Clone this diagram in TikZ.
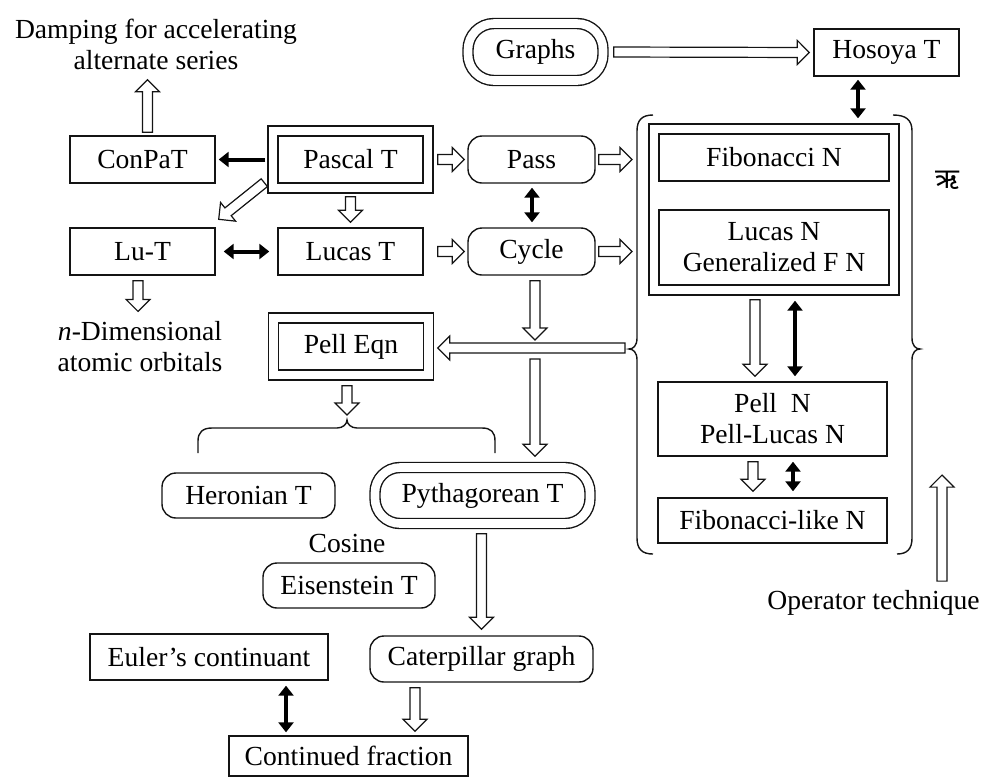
\documentclass[tikz,border=0pt]{standalone}
\usepackage{fontspec}
\setmainfont{Liberation Serif}
\newfontfamily\devafont[Script=Devanagari]{Noto Sans}
\usetikzlibrary{arrows.meta,calc}
\definecolor{inkline}{RGB}{20,20,20}
\tikzset{
  box/.style  ={draw=inkline, line width=0.7pt, inner sep=1pt, align=center},
  rbox/.style ={box, rounded corners=7pt},
  dbox/.style ={box, double, double distance=4.3pt},
  txt/.style  ={inner sep=0pt, align=center},
  harr/.style ={draw=inkline, line width=0.6pt, fill=white, line join=miter},
  barr/.style ={draw=black, line width=2pt, -{Triangle[length=5pt,width=7.5pt]}},
  bbarr/.style={barr, {Triangle[length=5pt,width=7.5pt]}-{Triangle[length=5pt,width=7.5pt]}},
  brc/.style  ={draw=inkline, line width=0.7pt},
}
% hollow block arrow from #2 to #3
\newcommand\hollow[3][]{%
  \coordinate (ha) at (#2);
  \coordinate (hb) at (#3);
  \coordinate (hc) at ($(hb)!6pt!(ha)$);
  \draw[harr,#1] ($(ha)!2.5pt!90:(hb)$) -- ($(hc)!2.5pt!90:(hb)$) -- ($(hc)!6pt!90:(hb)$)
    -- (hb) -- ($(hc)!6pt!-90:(hb)$) -- ($(hc)!2.5pt!-90:(hb)$) -- ($(ha)!2.5pt!-90:(hb)$) -- cycle;
}

\begin{document}
\begin{tikzpicture}[x=0.5pt,y=-0.5pt,font=\fontsize{13.8pt}{15.5pt}\selectfont]
  \useasboundingbox (0,0) rectangle (984,778);
  % left and middle column
  \node[txt] (damp) at (156,44) {Damping for accelerating\\alternate series};
  \node[box,minimum width=72.5pt,minimum height=23.5pt] (conpat) at (142.5,159.5) {ConPaT};
  \node[dbox,minimum width=77.5pt,minimum height=28.5pt] (pascal) at (350.5,159.5) {Pascal T};
  \node[box,minimum width=72.5pt,minimum height=23.5pt] (lut) at (142.5,251.5) {Lu-T};
  \node[box,minimum width=72.5pt,minimum height=23.5pt] (lucast) at (350.5,251.5) {Lucas T};
  \node[rbox,minimum width=63.5pt,minimum height=23.5pt] (pass) at (531.5,159.5) {Pass};
  \node[rbox,minimum width=63.5pt,minimum height=23.5pt] (cycle) at (531.5,251.5) {Cycle};
  \node[txt] (dim) at (140,347) {\textit{n}-Dimensional\\atomic orbitals};
  \node[dbox,minimum width=77.5pt,minimum height=28.5pt] (pelleq) at (351,346.5) {Pell Eqn};
  \node[rbox,minimum width=86.5pt,minimum height=22.5pt] (heron) at (248.5,495.5) {Heronian T};
  \node[dbox,rounded corners=12.5pt,minimum width=107.5pt,minimum height=28pt] (pyth) at (482.5,495.5) {Pythagorean T};
  \node[txt] (cosine) at (347,543) {Cosine};
  \node[rbox,minimum width=86pt,minimum height=22.5pt] (eisen) at (349,585.5) {Eisenstein T};
  \node[rbox,minimum width=111.5pt,minimum height=23pt] (cater) at (481.5,659) {Caterpillar graph};
  \node[box,minimum width=119pt,minimum height=23pt] (euler) at (209,657) {Euler’s continuant};
  \node[box,minimum width=119.5pt,minimum height=20pt] (contf) at (348.5,756) {Continued fraction};
  % right column
  \node[dbox,rounded corners=13pt,minimum width=67.5pt,minimum height=28.5pt] (graphs) at (535.5,52) {Graphs};
  \node[box,minimum width=72.5pt,minimum height=23.5pt] (hosoya) at (886.5,52.5) {Hosoya T};
  \node[box,minimum width=125pt,minimum height=85.5pt] (fibgrp) at (774,209.5) {};
  \node[box,minimum width=115pt,minimum height=23.5pt] (fib) at (774,157.5) {Fibonacci N};
  \node[box,minimum width=115pt,minimum height=37.5pt] (lucn) at (774,247.5) {Lucas N\\Generalized F N};
  \node[box,minimum width=114.5pt,minimum height=37pt] (pell) at (772.5,419) {Pell~~N\\Pell-Lucas N};
  \node[box,minimum width=114.5pt,minimum height=22.5pt] (fiblike) at (772.5,520.5) {Fibonacci-like N};
  \node[txt] (oper) at (873.5,603) {Operator technique};
  \node[txt] (ri) at (947,180) {\devafont\fontsize{14pt}{14pt}\selectfont ऋ};
  % braces
  \coordinate (lcusp) at (629,349);
  \coordinate (hcusp) at (347,420);
  \draw[brc] (653,115) .. controls (642,115) and (637,120) .. (637,131) -- (637,338)
    .. controls (637,346) and (633,349) .. (lcusp) .. controls (633,349) and (637,352) .. (637,360)
    -- (637,538) .. controls (637,549) and (642,554) .. (653,554);
  \draw[brc] (893,115) .. controls (906,115) and (912,120) .. (912,131) -- (912,338)
    .. controls (912,346) and (916,349) .. (920,349) .. controls (916,349) and (912,352) .. (912,360)
    -- (912,538) .. controls (912,549) and (907,554) .. (897,554);
  \draw[brc] (198,453) -- (198,441) .. controls (198,432) and (203,428) .. (212,428) -- (337,428)
    .. controls (343,428) and (347,424) .. (hcusp) .. controls (347,424) and (351,428) .. (357,428)
    -- (482,428) .. controls (491,428) and (495,432) .. (495,441) -- (495,453);
  % hollow arrows
  \hollow{$(conpat.north)+(5,-3)$}{$(conpat.north |- damp.south)+(5,10)$}
  \hollow{$(pascal.south west)+(-8,-6)$}{$(lut.north east)+(3,-8)$}
  \hollow{$(pascal.south)+(0,8)$}{$(lucast.north)+(0,-5)$}
  \hollow{$(pascal.east)+(9,0)$}{$(pass.west)+(-3,0)$}
  \hollow{$(lucast.east)+(14,0)$}{$(cycle.west)+(-3,0)$}
  \hollow{$(pass.east)+(3,0)$}{$(pass.east -| lcusp)+(3,0)$}
  \hollow{$(cycle.east)+(3,0)$}{$(cycle.east -| lcusp)+(3,0)$}
  \hollow{$(graphs.east)+(10,0)$}{$(hosoya.west)+(-4,0)$}
  \hollow{$(lut.south)+(-4.5,5)$}{$(lut.south |- dim.north)+(-4.5,-10)$}
  \hollow{$(cycle.south)+(3.5,5)$}{$(cycle.south |- lcusp)+(3.5,-9)$}
  \hollow{$(lcusp)+(-4,-1)$}{$(pelleq.east |- lcusp)+(8.5,-1)$}
  \hollow{$(cycle.south |- lcusp)+(3.5,10)$}{$(cycle.south |- pyth.north)+(3.5,-10.5)$}
  \hollow{$(pelleq.south)+(-4,10)$}{$(hcusp)+(0,-5)$}
  \hollow{$(fibgrp.south)+(-19,4)$}{$(pell.north)+(-17.5,-5)$}
  \hollow{$(pell.south)+(-19.5,5)$}{$(fiblike.north)+(-19.5,-6)$}
  \hollow{$(oper.north)+(68.5,-9)$}{$(oper.north)+(68.5,-115)$}
  \hollow{$(pyth.south -| cater.north)+(0,9.5)$}{$(cater.north)+(0,-6)$}
  \hollow{$(cater.south)+(-66.5,5)$}{$(contf.north)+(66.5,-4)$}
  % solid arrows
  \draw[barr] ($(pascal.west)+(-7,0)$) -- ($(conpat.east)+(3,0)$);
  \draw[bbarr] ($(lut.east)+(8,0)$) -- ($(lucast.west)+(-8,0)$);
  \draw[bbarr] ($(pass.south)+(0.5,4)$) -- ($(cycle.north)+(0.5,-5)$);
  \draw[bbarr] ($(hosoya.south)+(-28.5,3)$) -- ($(hosoya.south |- fibgrp.north)+(-28.5,-5)$);
  \draw[bbarr] ($(fibgrp.south)+(21,5)$) -- ($(pell.north)+(22.5,-5)$);
  \draw[bbarr] ($(pell.south)+(20.5,5)$) -- ($(fiblike.north)+(20.5,-6)$);
  \draw[bbarr] ($(euler.south)+(77,5)$) -- ($(contf.north)+(-62.5,-3)$);
\end{tikzpicture}
\end{document}
